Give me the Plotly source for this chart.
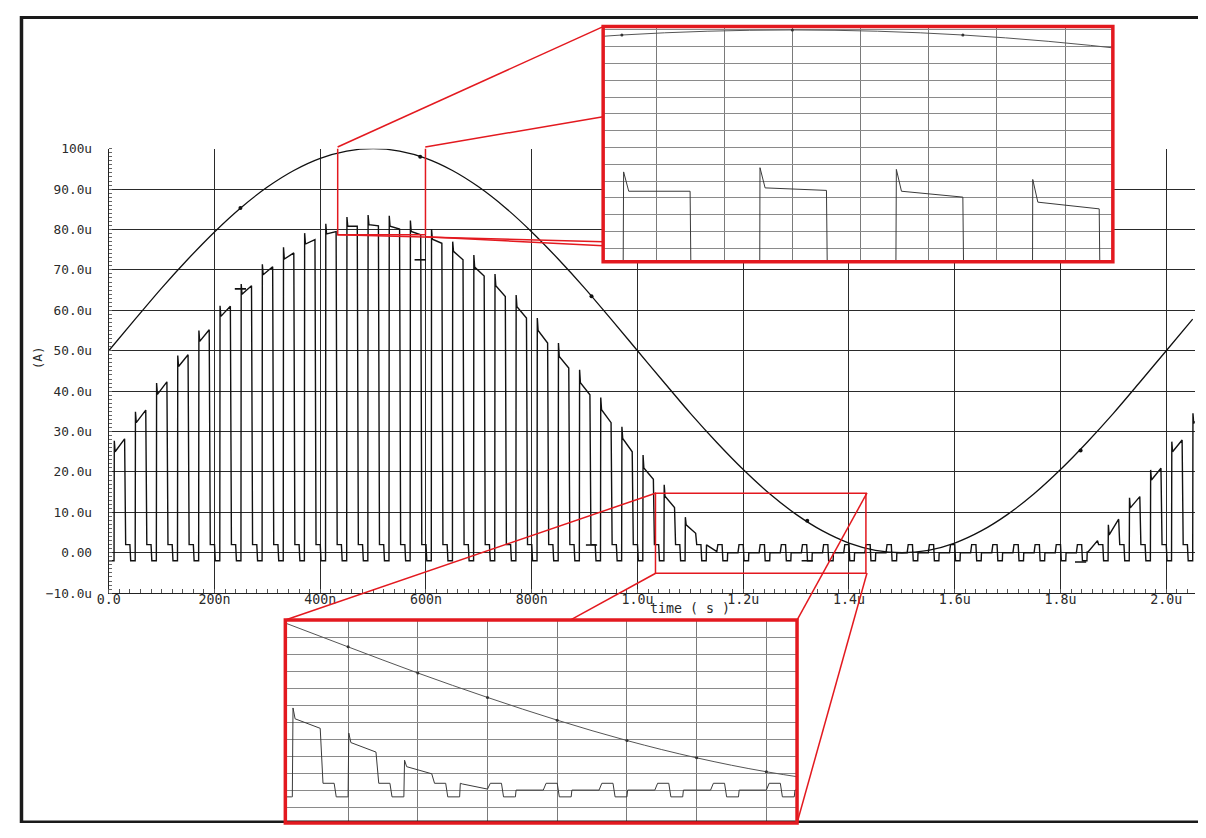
import plotly.graph_objects as go

# Figure size and the placement the page photograph gives it: a figure pixel f shows
# up at  A + B*f  in the 1206x838 picture, so positions below are written in picture
# (reference) pixels and converted to paper fractions.
FW, FH = 1190, 822
SX_A, SX_B = 19.5, 0.9905
SY_A, SY_B = 16.4, 0.981

# ---------------- data (time in µs, current in µA) ----------------
sine_t = [0.00, 0.05, 0.10, 0.15, 0.20, 0.25, 0.30, 0.35, 0.40, 0.45, 0.50, 0.55, 0.60, 0.65,
          0.70, 0.75, 0.80, 0.85, 0.90, 0.95, 1.00, 1.05, 1.10, 1.15, 1.20, 1.25, 1.30, 1.35,
          1.40, 1.45, 1.50, 1.55, 1.60, 1.65, 1.70, 1.75, 1.80, 1.85, 1.90, 1.95, 2.00, 2.05]
sine_i = [50.0, 57.8, 65.5, 72.7, 79.4, 85.4, 90.5, 94.6, 97.6, 99.4, 100.0, 99.4, 97.6, 94.6,
          90.5, 85.4, 79.4, 72.7, 65.5, 57.8, 50.0, 42.2, 34.5, 27.3, 20.6, 14.6, 9.5, 5.4,
          2.4, 0.6, 0.0, 0.6, 2.4, 5.4, 9.5, 14.6, 20.6, 27.3, 34.5, 42.2, 50.0, 57.8]
sine_marker_t = [0.249, 0.589, 0.913, 1.321, 1.838]
sine_marker_i = [85.3, 98.0, 63.5, 7.9, 25.3]

pulse_rise_t = [0.010, 0.050, 0.090, 0.130, 0.170, 0.210, 0.250, 0.290, 0.330, 0.370,
                0.410, 0.450, 0.490, 0.530, 0.570, 0.610, 0.650, 0.690, 0.730, 0.770,
                0.810, 0.850, 0.890, 0.930, 0.970, 1.010, 1.050, 1.090, 1.130, 1.170,
                1.210, 1.250, 1.290, 1.330, 1.370, 1.410, 1.450, 1.490, 1.530, 1.570,
                1.610, 1.650, 1.690, 1.730, 1.770, 1.810, 1.850, 1.890, 1.930, 1.970,
                2.010, 2.050]
pulse_spike = [27.7, 34.9, 42.0, 48.8, 55.0, 61.1, 66.5, 71.4, 75.6, 79.1,
               81.4, 83.1, 83.6, 83.4, 82.2, 80.1, 77.0, 73.7, 69.0, 63.8,
               58.1, 51.9, 45.3, 38.4, 31.2, 24.2, 16.8, 8.8, 2.0, 0.0,
               0.0, 0.0, 0.0, 0.0, 0.0, 0.0, 0.0, 0.0, 0.0, 0.0,
               0.0, 0.0, 0.0, 0.0, 0.0, 0.0, 0.2, 6.9, 13.6, 20.5,
               27.5, 34.5]
pulse_dip = [25.0, 32.2, 39.2, 46.1, 52.3, 58.5, 64.0, 68.8, 72.7, 76.4,
             78.9, 80.8, 81.2, 80.8, 79.5, 77.6, 74.6, 70.7, 66.1, 60.9,
             55.0, 48.6, 42.1, 35.4, 28.3, 21.0, 14.0, 6.9, 1.8, 0.0,
             0.0, 0.0, 0.0, 0.0, 0.0, 0.0, 0.0, 0.0, 0.0, 0.0,
             0.0, 0.0, 0.0, 0.0, 0.0, 0.0, 0.2, 4.4, 11.1, 18.0,
             25.0, 32.0]
pulse_end = [28.2, 35.3, 42.3, 49.0, 55.2, 61.0, 66.1, 70.8, 74.2, 77.5,
             79.5, 80.8, 80.9, 80.1, 78.7, 76.6, 72.5, 68.5, 63.4, 58.1,
             51.9, 45.7, 39.1, 32.2, 25.0, 18.2, 11.2, 4.8, 0.3, 0.0,
             0.0, 0.0, 0.0, 0.0, 0.0, 0.0, 0.0, 0.0, 0.0, 0.0,
             0.0, 0.0, 0.0, 0.0, 0.0, 0.0, 3.0, 8.3, 13.9, 20.9,
             27.9, 35.0]
plateau_hi = 2.0
plateau_lo = -2.0
pulse_marker_t = [0.249, 0.589, 0.913, 1.321, 1.838]
pulse_marker_i = [65.3, 72.5, 1.9, -2.0, -2.3]

x_tickvals = [0.0, 0.2, 0.4, 0.6, 0.8, 1.0, 1.2, 1.4, 1.6, 1.8, 2.0]
x_ticktext = ["0.0", "200n", "400n", "600n", "800n", "1.0u", "1.2u", "1.4u", "1.6u", "1.8u", "2.0u"]
y_tickvals = [-10, 0, 10, 20, 30, 40, 50, 60, 70, 80, 90, 100]
y_ticktext = ["\u221210.0u", "0.00", "10.0u", "20.0u", "30.0u", "40.0u", "50.0u",
              "60.0u", "70.0u", "80.0u", "90.0u", "100u"]

# zoom windows (data coordinates)
top_box_t = [0.433, 0.599]
top_box_i = [78.7, 100.4]
bot_box_t = [1.034, 1.432]
bot_box_i = [-5.1, 14.7]
top_inset_t = [0.4445, 0.594]
top_inset_i = [72.4, 100.4]
bot_inset_t = [1.005, 1.372]
bot_inset_i = [-9.7, 50.1]

# ---------------- build pulse waveform vertices from per-pulse values ----------------
OFF = [0.0, 0.0005, 0.002, 0.020, 0.022, 0.030, 0.0315, 0.0395]
wave_t = [0.0]
wave_i = [plateau_lo]
for t0, sp, dp, en in zip(pulse_rise_t, pulse_spike, pulse_dip, pulse_end):
    vals = [plateau_lo, sp, dp, en, plateau_hi, plateau_hi, plateau_lo, plateau_lo]
    for o, v in zip(OFF, vals):
        wave_t.append(t0 + o)
        wave_i.append(v)


# ---------------- figure ----------------
def fx(r):
    return min(max(((r - SX_A) / SX_B) / FW, 0.0), 1.0)


def fy(r):
    return min(max(1 - ((r - SY_A) / SY_B) / FH, 0.0), 1.0)


RED = "#e3191f"
MONO = "DejaVu Sans Mono"
INK = "#111111"

fig = go.Figure()

fig.add_trace(go.Scatter(x=wave_t, y=wave_i, mode="lines",
                         line=dict(color=INK, width=1.4),
                         xaxis="x", yaxis="y", hoverinfo="skip"))
fig.add_trace(go.Scatter(x=sine_t, y=sine_i, mode="lines",
                         line=dict(color=INK, width=1.3, shape="spline"),
                         xaxis="x", yaxis="y", hoverinfo="skip"))
fig.add_trace(go.Scatter(x=sine_marker_t, y=sine_marker_i, mode="markers",
                         marker=dict(color=INK, size=4),
                         xaxis="x", yaxis="y", hoverinfo="skip"))
fig.add_trace(go.Scatter(x=pulse_marker_t, y=pulse_marker_i, mode="markers",
                         marker=dict(symbol="line-ew", size=8, line=dict(color=INK, width=1.6)),
                         xaxis="x", yaxis="y", hoverinfo="skip"))

for xa, ya in (("x2", "y2"), ("x3", "y3")):
    fig.add_trace(go.Scatter(x=wave_t, y=wave_i, mode="lines",
                             line=dict(color="#3a3a3a", width=1),
                             xaxis=xa, yaxis=ya, hoverinfo="skip"))
    fig.add_trace(go.Scatter(x=sine_t, y=sine_i, mode="lines+markers",
                             line=dict(color="#555555", width=1, shape="spline"),
                             marker=dict(color="#333333", size=3),
                             xaxis=xa, yaxis=ya, hoverinfo="skip"))

grid_main = "#2a2a2a"
inset_axis = dict(showticklabels=False, ticks="", showgrid=True, gridwidth=1,
                  zeroline=False, showline=False, tickmode="linear", tick0=0)

layout = dict(
    width=FW, height=FH,
    margin=dict(l=0, r=0, t=0, b=0),
    paper_bgcolor="white", plot_bgcolor="white",
    showlegend=False, hovermode=False,
    xaxis=dict(domain=[fx(108.3), fx(1195)], range=[0, 2.054], anchor="y",
               tickmode="array", tickvals=x_tickvals, ticktext=x_ticktext,
               showgrid=True, gridcolor=grid_main, gridwidth=1, zeroline=False,
               showline=True, linecolor="#222222", linewidth=1.2, ticks="",
               tickfont=dict(family=MONO, size=13.3, color="#2a2a2a"),
               ticklabelstandoff=-6,
               minor=dict(tickmode="linear", tick0=0, dtick=0.02, ticks="inside",
                          ticklen=4, tickwidth=1, tickcolor="#555555", showgrid=False)),
    yaxis=dict(domain=[fy(593.1), fy(149)], range=[-10, 100], anchor="x",
               tickmode="array", tickvals=y_tickvals, ticktext=y_ticktext,
               showgrid=True, gridcolor=grid_main, gridwidth=1, zeroline=False,
               showline=True, linecolor="#222222", linewidth=1.2, ticks="",
               tickfont=dict(family=MONO, size=12.8, color="#2a2a2a"), ticklabelstandoff=13,
               minor=dict(tickmode="linear", tick0=0, dtick=1, ticks="inside",
                          ticklen=3, tickwidth=1, tickcolor="#666666", showgrid=False)),
    xaxis2=dict(domain=[fx(603), fx(1113)], range=top_inset_t, anchor="y2",
                dtick=0.02, gridcolor="#7a7a7a", **inset_axis),
    yaxis2=dict(domain=[fy(262), fy(27)], range=top_inset_i, anchor="x2",
                dtick=2, gridcolor="#8a8a8a", **inset_axis),
    xaxis3=dict(domain=[fx(285), fx(797)], range=bot_inset_t, anchor="y3",
                dtick=0.05, gridcolor="#7a7a7a", **inset_axis),
    yaxis3=dict(domain=[fy(825), fy(620)], range=bot_inset_i, anchor="x3",
                dtick=5, gridcolor="#8a8a8a", **inset_axis),
)

shapes = []
# outer scan frame (as close to the picture edge as the figure reaches)
shapes.append(dict(type="line", xref="paper", yref="paper", x0=1.5 / FW, x1=1.5 / FW, y0=1, y1=0,
                   line=dict(color="#1a1a1a", width=3.5), layer="above"))
shapes.append(dict(type="line", xref="paper", yref="paper", x0=0, x1=1, y0=1 - 1.5 / FH, y1=1 - 1.5 / FH,
                   line=dict(color="#1a1a1a", width=3), layer="above"))
shapes.append(dict(type="line", xref="paper", yref="paper", x0=0, x1=1, y0=1.2 / FH, y1=1.2 / FH,
                   line=dict(color="#1a1a1a", width=2.5), layer="above"))

# white backgrounds of insets (in the inset subplot layer, above the main plot)
shapes.append(dict(type="rect", xref="x2", yref="y2", x0=top_inset_t[0], x1=top_inset_t[1],
                   y0=top_inset_i[0], y1=top_inset_i[1],
                   fillcolor="white", line=dict(width=0), layer="below"))
shapes.append(dict(type="rect", xref="x3", yref="y3", x0=bot_inset_t[0], x1=bot_inset_t[1],
                   y0=bot_inset_i[0], y1=bot_inset_i[1],
                   fillcolor="white", line=dict(width=0), layer="below"))

# zoom boxes on main chart
shapes.append(dict(type="rect", xref="x", yref="y", x0=top_box_t[0], x1=top_box_t[1],
                   y0=top_box_i[0], y1=top_box_i[1], line=dict(color=RED, width=1.5), layer="above"))
shapes.append(dict(type="rect", xref="x", yref="y", x0=bot_box_t[0], x1=bot_box_t[1],
                   y0=bot_box_i[0], y1=bot_box_i[1], line=dict(color=RED, width=1.5), layer="above"))

# connectors (reference pixels)
conn = [
    ((337.3, 147.3), (603, 27)),
    ((425, 147.3), (603, 117)),
    ((337.3, 235), (603, 242)),
    ((425, 237), (603, 246)),
    ((656, 493), (285, 620)),
    ((656, 573), (570, 620)),
    ((867, 493), (797, 620)),
    ((867, 573), (797, 825)),
]
for (a, b) in conn:
    shapes.append(dict(type="line", xref="paper", yref="paper",
                       x0=fx(a[0]), y0=fy(a[1]), x1=fx(b[0]), y1=fy(b[1]),
                       line=dict(color=RED, width=1.5), layer="above"))

# inset borders
shapes.append(dict(type="rect", xref="paper", yref="paper", x0=fx(603), x1=fx(1113), y0=fy(262), y1=fy(27),
                   line=dict(color=RED, width=3.5), layer="above"))
shapes.append(dict(type="rect", xref="paper", yref="paper", x0=fx(285), x1=fx(797), y0=fy(825), y1=fy(620),
                   line=dict(color=RED, width=3.5), layer="above"))

layout["shapes"] = shapes
layout["annotations"] = [
    dict(text="(A)", xref="paper", yref="paper", x=fx(37), y=fy(358), showarrow=False,
         textangle=-90, font=dict(family=MONO, size=12.8, color="#2a2a2a"),
         xanchor="center", yanchor="middle"),
    dict(text="time ( s )", xref="paper", yref="paper", x=fx(690), y=fy(608), showarrow=False,
         font=dict(family=MONO, size=13.3, color="#2a2a2a"), xanchor="center", yanchor="middle"),
]

fig.update_layout(**layout)
fig.write_html("out.html")
